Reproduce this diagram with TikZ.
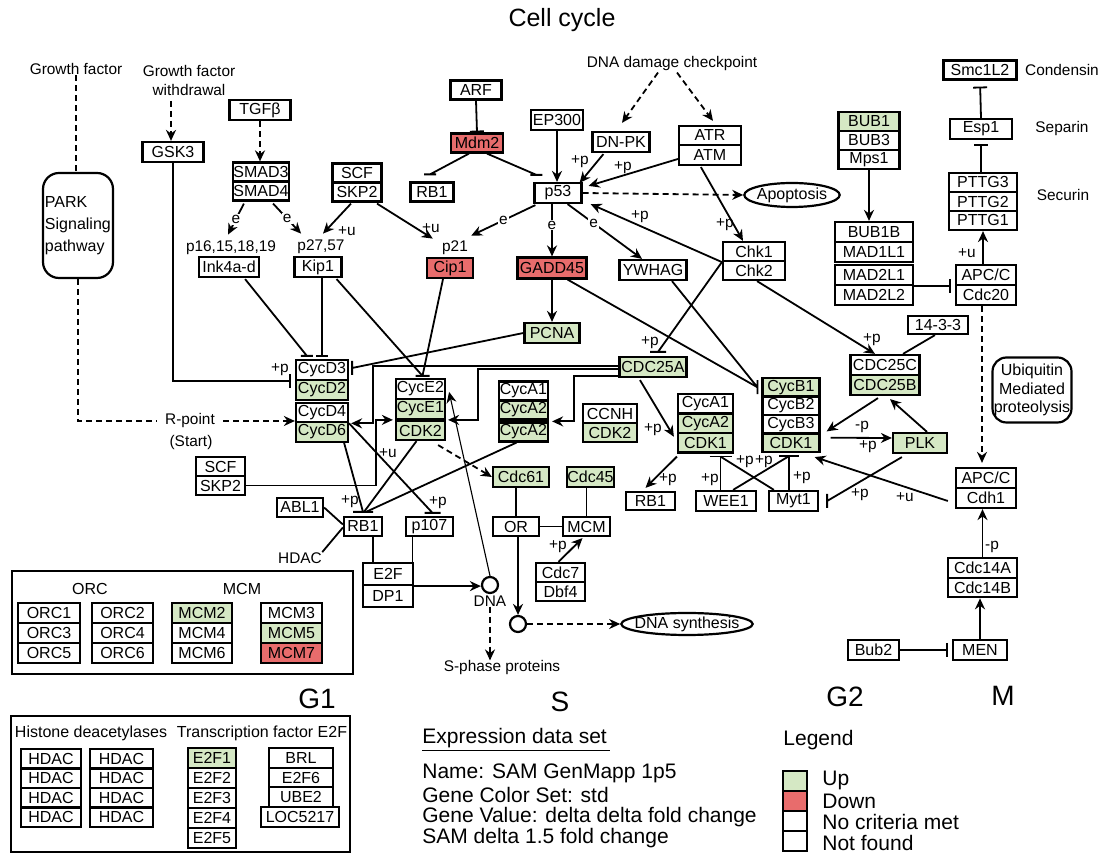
\documentclass[tikz,border=0pt]{standalone}
\usepackage{fontspec}
\setmainfont{Liberation Sans}
\usetikzlibrary{arrows.meta,calc,shapes.geometric}
\definecolor{upc}{RGB}{213,232,196}
\definecolor{dnc}{RGB}{232,108,108}
\begin{document}
\begin{tikzpicture}[x=0.5pt,y=-0.5pt,
  wd/.style={minimum width=#1*0.5pt},
  ht/.style={minimum height=#1*0.5pt},
  bx/.style={draw,line width=1.1pt,inner sep=0pt,fill=white,font=\fontsize{8}{9}\selectfont},
  up/.style={bx,fill=upc},
  dn/.style={bx,fill=dnc},
  txt/.style={inner sep=0pt,font=\fontsize{7.7}{9}\selectfont},
  lbl/.style={inner sep=0pt,font=\fontsize{7.7}{9}\selectfont},
  info/.style={anchor=west,inner sep=0pt,font=\fontsize{10.5}{12}\selectfont},
  phase/.style={inner sep=0pt,font=\fontsize{14}{16}\selectfont},
  grp/.style={draw,line width=1.1pt,inner sep=0pt},
  ln/.style={line width=0.9pt},
  ar/.style={ln,-{Stealth[length=5.5pt,width=5pt]}},
  dsh/.style={ln,dash pattern=on 3pt off 2pt},
  dar/.style={ar,dash pattern=on 3pt off 2pt},
  inh/.style={ln,-{Bar[width=7pt]}},
  elab/.style={fill=white,inner sep=0.6pt,font=\fontsize{7.7}{9}\selectfont}]
\useasboundingbox (0,0) rectangle (1104,854);

% ---------- title and free texts
\node[font=\fontsize{12.5}{14}\selectfont] (title) at (562,20) {Cell cycle};
\node[txt] (gf) at (76,69) {Growth factor};
\node[txt,align=center,font=\fontsize{7.7}{9.5}\selectfont] (gfw) at (189,81) {Growth factor\\withdrawal};
\node[txt] (dnadc) at (672,64) {DNA damage checkpoint};
\node[txt] (condensin) at (1062,70) {Condensin};
\node[txt] (separin) at (1062,129) {Separin};
\node[txt] (securin) at (1063,195) {Securin};
\node[txt] (p16) at (231,248) {p16,15,18,19};
\node[txt] (p2757) at (321,247) {p27,57};
\node[txt] (p21) at (455,248) {p21};
\node[txt,inner xsep=4pt] (rpoint) at (190,421) {R-point};
\node[txt] (rstart) at (191,443) {(Start)};
\node[txt] (hdacl) at (300,558) {HDAC};
\node[txt] (dnal) at (490,601) {DNA};
\node[txt] (sphase) at (502,668) {S-phase proteins};

% ---------- rounded boxes
\node[draw,rounded corners=8pt,line width=1.1pt,minimum width=35pt,minimum height=52.5pt,text width=33pt,align=left,inner sep=1pt,font=\fontsize{8}{11}\selectfont] (park) at (78,225.5) {PARK\\Signaling\\pathway};
\node[draw,rounded corners=7pt,line width=1.1pt,minimum width=39.5pt,minimum height=32.5pt,align=center,inner sep=0pt,font=\fontsize{8}{9.25}\selectfont] (ubq) at (1032,390) {Ubiquitin\\Mediated\\proteolysis};

% ---------- top left
\node[bx,wd=61,ht=20] (gsk3) at (173,152) {GSK3};
\node[bx,wd=61,ht=20] (tgfb) at (260,110) {TGFβ};
\node[bx,wd=56,ht=19] (smad3) at (261,172) {SMAD3};
\node[bx,wd=56,ht=19] (smad4) at (261,191) {SMAD4};
\node[bx,wd=60,ht=20] (ink) at (229,267) {Ink4a-d};
\node[bx,wd=47,ht=20] (kip1) at (318,267) {Kip1};
\node[bx,wd=49,ht=19] (scfa) at (357,173) {SCF};
\node[bx,wd=49,ht=19] (skp2a) at (357,192) {SKP2};

% ---------- top middle
\node[bx,wd=51,ht=19] (arf) at (476,90) {ARF};
\node[dn,wd=52,ht=19] (mdm2) at (477,143) {Mdm2};
\node[bx,wd=43,ht=19] (rb1a) at (432,192) {RB1};
\node[bx,wd=47,ht=20] (p53) at (558,193) {p53};
\node[bx,wd=52,ht=20] (ep300) at (557,120) {EP300};
\node[bx,wd=57,ht=20] (dnpk) at (621,142) {DN-PK};
\node[bx,wd=62,ht=19] (atr) at (710,135.5) {ATR};
\node[bx,wd=62,ht=20] (atm) at (710,155) {ATM};
\node[dn,wd=46,ht=20] (cip1) at (450,268) {Cip1};
\node[dn,wd=69,ht=21] (gadd) at (552,268) {GADD45};
\node[bx,wd=67,ht=20] (ywhag) at (653,270) {YWHAG};
\node[bx,wd=62,ht=19] (chk1) at (754,251.5) {Chk1};
\node[bx,wd=62,ht=19] (chk2) at (754,270.5) {Chk2};
\node[draw,ellipse,line width=1.1pt,minimum width=47.5pt,minimum height=12pt,inner xsep=-0.7pt,inner ysep=0pt,font=\fontsize{8}{9}\selectfont] (apop) at (792,195) {Apoptosis};

% ---------- top right
\node[bx,wd=73,ht=19] (smc) at (980,70) {Smc1L2};
\node[bx,wd=62,ht=20] (esp1) at (981,129) {Esp1};
\node[bx,wd=68,ht=19] (pttg3) at (983,182.5) {PTTG3};
\node[bx,wd=68,ht=19] (pttg2) at (983,201.5) {PTTG2};
\node[bx,wd=68,ht=19] (pttg1) at (983,220.5) {PTTG1};
\node[bx,wd=60,ht=20] (apca) at (986,275) {APC/C};
\node[bx,wd=60,ht=20] (cdc20) at (986,295) {Cdc20};
\node[up,wd=61,ht=19] (bub1) at (869,121.5) {BUB1};
\node[bx,wd=61,ht=19] (bub3) at (869,140.5) {BUB3};
\node[bx,wd=61,ht=19] (mps1) at (869,159.5) {Mps1};
\node[bx,wd=78,ht=20] (bub1b) at (874,232) {BUB1B};
\node[bx,wd=78,ht=20] (mad1l1) at (874,252) {MAD1L1};
\node[bx,wd=78,ht=20] (mad2l1) at (874,275) {MAD2L1};
\node[bx,wd=78,ht=20] (mad2l2) at (874,295) {MAD2L2};
\node[bx,wd=60,ht=20] (apcb) at (986,478) {APC/C};
\node[bx,wd=60,ht=20] (cdh1) at (986,498) {Cdh1};
\node[bx,wd=60,ht=18] (b1433) at (938,325) {14-3-3};
\node[bx,wd=69,ht=20] (cdc25c) at (885,365) {CDC25C};
\node[up,wd=69,ht=20] (cdc25b) at (885,385) {CDC25B};
\node[up,wd=54,ht=20] (plk) at (920,443) {PLK};

% ---------- centre
\node[bx,wd=52,ht=20] (cycd3) at (322,370) {CycD3};
\node[up,wd=52,ht=20] (cycd2) at (322,390) {CycD2};
\node[bx,wd=52,ht=19.5] (cycd4) at (322,412.5) {CycD4};
\node[up,wd=52,ht=19.5] (cycd6) at (322,432) {CycD6};
\node[up,wd=55,ht=20] (pcna) at (552,333) {PCNA};
\node[up,wd=67,ht=20] (cdc25a) at (653,367) {CDC25A};
\node[up,wd=57,ht=18.5] (cycb1) at (791,387.25) {CycB1};
\node[bx,wd=57,ht=18.5] (cycb2) at (791,405.75) {CycB2};
\node[bx,wd=57,ht=18.5] (cycb3) at (791,424.25) {CycB3};
\node[up,wd=57,ht=18.5] (cdk1b) at (791,442.75) {CDK1};
\node[bx,wd=60,ht=20] (wee1) at (726,501) {WEE1};
\node[bx,wd=49,ht=20] (myt1) at (793.5,501) {Myt1};
\node[bx,wd=55,ht=19.5] (cyca1r) at (705.5,403.75) {CycA1};
\node[up,wd=55,ht=19.5] (cyca2r) at (705.5,423.25) {CycA2};
\node[up,wd=55,ht=19.5] (cdk1a) at (705.5,442.75) {CDK1};
\node[bx,wd=49,ht=18] (rb1b) at (650.5,501) {RB1};
\node[bx,wd=54,ht=19] (ccnh) at (610,413.5) {CCNH};
\node[up,wd=54,ht=19] (cdk2b) at (610,432.5) {CDK2};
\node[up,wd=47,ht=20] (cdc45) at (590.5,477) {Cdc45};
\node[bx,wd=47,ht=19] (mcm) at (586.5,526.5) {MCM};
\node[bx,wd=46,ht=19] (or) at (516,526.5) {OR};
\node[up,wd=56,ht=20] (cdc61) at (521,477) {Cdc61};
\node[bx,wd=49,ht=19] (cyca1l) at (523.5,391) {CycA1};
\node[up,wd=49,ht=19] (cyca2l) at (523.5,410) {CycA2};
\node[up,wd=49,ht=19] (cyca2b) at (523.5,432) {CycA2};
\node[bx,wd=49,ht=20] (cyce2) at (420.5,389) {CycE2};
\node[up,wd=49,ht=20] (cyce1) at (420.5,409) {CycE1};
\node[up,wd=49,ht=19] (cdk2a) at (420.5,430.5) {CDK2};
\node[bx,wd=49,ht=19] (scfb) at (220.5,466.5) {SCF};
\node[bx,wd=49,ht=19] (skp2b) at (220.5,485.5) {SKP2};
\node[bx,wd=38,ht=19] (rb1c) at (363,526.5) {RB1};
\node[bx,wd=46,ht=19] (abl1) at (300,507.5) {ABL1};
\node[bx,wd=47,ht=19] (p107) at (429.5,526.5) {p107};
\node[bx,wd=50,ht=22] (e2f) at (388,574) {E2F};
\node[bx,wd=50,ht=22] (dp1) at (388,596) {DP1};
\node[bx,wd=49,ht=19] (cdc7) at (560.5,572.5) {Cdc7};
\node[bx,wd=49,ht=19] (dbf4) at (560.5,591.5) {Dbf4};
\node[circle,draw,line width=1.1pt,minimum size=8pt,inner sep=0pt] (dnac) at (490,585) {};
\node[circle,draw,line width=1.1pt,minimum size=8pt,inner sep=0pt] (synth) at (518,624) {};
\node[draw,ellipse,line width=1.1pt,minimum width=65pt,minimum height=11pt,inner xsep=-3pt,inner ysep=0pt,font=\fontsize{8}{9}\selectfont] (dnasyn) at (687,624) {DNA synthesis};

% ---------- bottom right
\node[bx,wd=51,ht=20] (bub2) at (873.5,650) {Bub2};
\node[bx,wd=54,ht=20] (men) at (980,650) {MEN};
\node[bx,wd=69,ht=20] (cdc14a) at (982.5,568) {Cdc14A};
\node[bx,wd=69,ht=19.5] (cdc14b) at (982.5,587.5) {Cdc14B};

% ---------- ORC / MCM group
\node[grp,wd=341,ht=103] (grp1) at (182.5,622.5) {};
\node[bx,draw=none,fill=none] (orcl) at (90,589) {ORC};
\node[bx,draw=none,fill=none] (mcml) at (242,589) {MCM};
\node[bx,wd=62,ht=20] (orc1) at (49,613) {ORC1};
\node[bx,wd=62,ht=20] (orc3) at (49,633) {ORC3};
\node[bx,wd=62,ht=20] (orc5) at (49,653) {ORC5};
\node[bx,wd=61,ht=20] (orc2) at (122.5,613) {ORC2};
\node[bx,wd=61,ht=20] (orc4) at (122.5,633) {ORC4};
\node[bx,wd=61,ht=20] (orc6) at (122.5,653) {ORC6};
\node[up,wd=60,ht=20] (mcm2) at (202,613) {MCM2};
\node[bx,wd=60,ht=20] (mcm4) at (202,633) {MCM4};
\node[bx,wd=60,ht=20] (mcm6) at (202,653) {MCM6};
\node[bx,wd=61,ht=20] (mcm3) at (291.5,613) {MCM3};
\node[up,wd=61,ht=20] (mcm5) at (291.5,633) {MCM5};
\node[dn,wd=61,ht=20] (mcm7) at (291.5,653) {MCM7};

% ---------- HDAC / E2F group
\node[grp,wd=339,ht=136] (grp2) at (180.5,784) {};
\node[bx,draw=none,fill=none] (hdl) at (91,733) {Histone deacetylases};
\node[bx,draw=none,fill=none] (tfl) at (262,733) {Transcription factor E2F};
\node[bx,wd=60,ht=19.5] (hd1) at (51,758.75) {HDAC};
\node[bx,wd=60,ht=19.5] (hd2) at (51,778.25) {HDAC};
\node[bx,wd=60,ht=19.5] (hd3) at (51,797.75) {HDAC};
\node[bx,wd=60,ht=19.5] (hd4) at (51,817.25) {HDAC};
\node[bx,wd=63,ht=19.5] (hd5) at (121.5,758.75) {HDAC};
\node[bx,wd=63,ht=19.5] (hd6) at (121.5,778.25) {HDAC};
\node[bx,wd=63,ht=19.5] (hd7) at (121.5,797.75) {HDAC};
\node[bx,wd=63,ht=19.5] (hd8) at (121.5,817.25) {HDAC};
\node[up,wd=48,ht=20] (e2f1) at (212,758) {E2F1};
\node[bx,wd=48,ht=20] (e2f2) at (212,778) {E2F2};
\node[bx,wd=48,ht=20] (e2f3) at (212,798) {E2F3};
\node[bx,wd=48,ht=20] (e2f4) at (212,818) {E2F4};
\node[bx,wd=48,ht=20] (e2f5) at (212,838) {E2F5};
\node[bx,wd=64,ht=19.7] (brl) at (301,757.8) {BRL};
\node[bx,wd=64,ht=19.7] (e2f6) at (301,777.5) {E2F6};
\node[bx,wd=64,ht=19.7] (ube2) at (301,797.2) {UBE2};
\node[bx,wd=78,ht=20] (loc) at (300,817) {LOC5217};

% ---------- phases, data set, legend
\node[phase] (g1) at (317,699) {G1};
\node[phase] (sph) at (560,702) {S};
\node[phase] (g2) at (845,697) {G2};
\node[phase] (mph) at (1003,696) {M};
\node[info] (eds) at (422,740) {\underline{Expression data set\,}};
\node[info] (eds1) at (422,773) {Name: SAM GenMapp 1p5};
\node[info] (eds2) at (422,795) {Gene Color Set: std};
\node[info] (eds3) at (422,817) {Gene Value: delta delta fold change};
\node[info] (eds4) at (422,838) {SAM delta 1.5 fold change};
\node[info] (legt) at (783,740) {Legend};
\node[up,wd=24,ht=20] (lg1) at (795,781) {};
\node[dn,wd=24,ht=20] (lg2) at (795,801) {};
\node[bx,wd=24,ht=20] (lg3) at (795,821) {};
\node[bx,wd=24,ht=20] (lg4) at (795,841) {};
\node[info] (lgt1) at (822,780) {Up};
\node[info] (lgt2) at (822,801) {Down};
\node[info] (lgt3) at (822,822) {No criteria met};
\node[info] (lgt4) at (822,843) {Not found};

% ---------- connector labels
\node[lbl] (l1) at (347,231) {+u};
\node[lbl] (l2) at (431,228) {+u};
\node[lbl] (l3) at (580,162) {+p};
\node[lbl] (l4) at (623,168) {+p};
\node[lbl] (l5) at (725,225) {+p};
\node[lbl] (l6) at (640,217) {+p};
\node[lbl] (l7) at (967,253) {+u};
\node[lbl] (l8) at (905,497) {+u};
\node[lbl] (l9) at (872,340) {+p};
\node[lbl] (l10) at (862,427) {-p};
\node[lbl] (l11) at (868,447) {+p};
\node[lbl] (l12) at (860,495) {+p};
\node[lbl] (l13) at (280,370) {+p};
\node[lbl] (l14) at (650,343) {+p};
\node[lbl] (l15) at (653,430) {+p};
\node[lbl] (l16) at (668,480) {+p};
\node[lbl] (l17) at (710,480) {+p};
\node[lbl] (l18) at (745,462) {+p};
\node[lbl] (l19) at (764,462) {+p};
\node[lbl] (l20) at (802,478) {+p};
\node[lbl] (l21) at (350,502) {+p};
\node[lbl] (l22) at (438,503) {+p};
\node[lbl] (l23) at (388,453) {+u};
\node[lbl] (l24) at (558,547) {+p};
\node[lbl] (l25) at (992,547) {-p};

% ---------- connectors: left
\draw[dsh] (gf.south) -- (gf.south |- park.north);
\draw[dsh] (park.south) |- (rpoint.west);
\draw[dar] (rpoint.east) -- (rpoint.east -| cycd4.west);
\coordinate (gfwe) at (171,101);
\draw[dar] (gfwe) -- (gfwe |- gsk3.north);
\draw[inh,shorten >=2pt] (gsk3.south) |- (cycd3.south west);
\draw[dar] (tgfb.south) -- (tgfb.south |- smad3.north);
\draw[ar] ($(smad4.south west)+(12,2)$) -- node[elab]{e} ($(p16.north)+(-3,-6)$);
\draw[ar] ($(smad4.south east)+(-17,2)$) -- node[elab]{e} ($(p2757.north west)+(4,-6)$);
\draw[ar] ($(skp2a.south)+(-6,1)$) -- ($(p2757.north)+(2,-6)$);
\draw[ar] ($(skp2a.south)+(20,1)$) -- ($(p21.north west)+(-9,-2)$);

% ---------- connectors: p53 area
\draw[inh] (arf.south) -- (mdm2.north);
\draw[ln] ($(mdm2.south)+(-8,0)$) -- ($(rb1a.north)+(-2,-7)$) ++(-6,0) -- ++(12,0);
\draw[ln] ($(mdm2.south)+(10,0)$) -- ($(p53.north west)+(3,-7)$) ++(-6,0) -- ++(12,0);
\draw[ar] (ep300.south) -- (ep300.south |- p53.north);
\draw[ar] ($(dnpk.south west)+(12,1)$) -- ($(p53.north east)+(-3,1)$);
\draw[ar] ($(atm.west)+(0,4)$) -- ($(p53.north east)+(6,4)$);
\draw[dar] ($(dnadc.south)+(-14,1)$) -- ($(dnpk.north)+(1,-8)$);
\draw[dar] ($(dnadc.south)+(5,1)$) -- ($(atr.north)+(3,-4)$);
\draw[dar] (p53.east) -- (apop.west);
\draw[ar] ($(atm.south west)+(23,1)$) -- ($(chk1.north)+(-11,0)$);
\draw[ar] (chk1.south west) -- ($(p53.south east)+(8,0)$);
\draw[ar] ($(p53.south west)+(2,1)$) -- node[elab]{e} ($(p21.north east)+(3,-5)$);
\draw[ar] ($(p53.south)+(-6,0)$) -- node[elab,pos=.4]{e} (gadd.north);
\draw[ar] ($(p53.south east)+(-15,0)$) -- node[elab,pos=.35]{e} ($(ywhag.north)+(-11,0)$);

% ---------- connectors: right top
\draw[inh,shorten >=3pt] (esp1.north) -- (smc.south);
\draw[inh,shorten >=2pt] (esp1.south |- pttg3.north) -- (esp1.south);
\draw[ar] ($(apca.north)+(-3,0)$) -- (pttg1.south);
\draw[ar] (mps1.south) -- (mps1.south |- bub1b.north);
\draw[inh,shorten >=2pt] (mad2l1.south east) -- (mad2l1.south east -| apca.west);
\draw[dar] ($(cdc20.south)+(-4,0)$) -- ($(apcb.north)+(-4,-4)$);
\draw[ar] ($(cdh1.west)+(-7,3)$) -- ($(cdk1b.south east)+(-6,4)$);
\draw[ln] ($(b1433.south)+(-3,0)$) -- ($(cdc25c.north)+(18,0)$);
\draw[ar] ($(chk2.south)+(3,0)$) -- ($(cdc25c.north)+(-10,0)$);
\draw[ar] ($(cdc25b.south)+(-7,2)$) -- ($(cdk1b.north east)+(6,-1)$);
\draw[ar] ($(plk.north)+(7,0)$) -- ($(cdc25b.south)+(5,3)$);
\draw[ar] ($(cdk1b.east)+(10,-5)$) -- ($(plk.west)+(0,-5)$);
\draw[ln] ($(plk.south west)+(10,3)$) -- ($(myt1.east)+(8,0)$) ++(0,-7) -- ++(0,14);

% ---------- connectors: centre
\draw[ln] ($(ink.south east)+(-15,1)$) -- ($(cycd3.north west)+(12,-3)$) ++(-6,0) -- ++(12,0);
\coordinate (k1) at ($(kip1.south)+(4,0)$);
\draw[ln] (k1) -- ($(k1 |- cycd3.north)+(0,-3)$) ++(-6,0) -- ++(12,0);
\coordinate (ce2t) at ($(cyce2.north)+(2,-2)$);
\draw[ln] ($(kip1.south east)+(-6,1)$) -- (ce2t);
\draw[ln] ($(cip1.south)+(-7,0)$) -- (ce2t) ++(-7,0) -- ++(14,0);
\draw[ln] (pcna.west) -- ($(cycd3.east)+(3,-2)$) ++(0,-7) -- ++(0,14);
\draw[ar] (gadd.south) -- (pcna.north);
\coordinate (cb1t) at ($(cycb1.west)+(-4,0)$);
\draw[ln] ($(gadd.south east)+(-20,0)$) -- (cb1t);
\draw[ln] ($(ywhag.south)+(19,0)$) -- (cb1t) ++(0,-7) -- ++(0,14);
\draw[ar] ($(cdc25a.west)+(0,-1)$) -| ($(cycd4.south east)+(24,0)$) -- ($(cycd4.south east)+(2,0)$);
\draw[ar] ($(cdc25a.west)+(0,2)$) -| ($(cdk2a.north east)+(32,0)$) -- ($(cdk2a.north east)+(2,0)$);
\draw[ar] ($(cdc25a.south west)+(0,-2)$) -| ($(cyca2b.north east)+(25,0)$) -- ($(cyca2b.north east)+(3,0)$);
\draw[ln] (chk1.south west) -- ($(cdc25a.north)+(5,-4)$) ++(-8,0) -- ++(16,0);
\draw[ar] ($(cdc25a.south)+(-13,2)$) -- ($(cdk1a.west)+(-3,-6)$);
\draw[ar] ($(cdk1a.south west)+(0,3)$) -- ($(rb1b.north)+(-5,-3)$);
\coordinate (cdk1at) at ($(cdk1a.south)+(15,3)$);
\coordinate (cdk1bt) at ($(cdk1b.south)+(-2,3)$);
\draw[ln] (cdk1at |- wee1.north) -- (cdk1at) ++(-11,0) -- ++(22,0);
\draw[ln] ($(myt1.north west)+(6,0)$) -- (cdk1at);
\draw[ln] ($(wee1.north east)+(-24,0)$) -- (cdk1bt);
\draw[ln] (cdk1bt |- myt1.north) -- (cdk1bt) ++(-10,0) -- ++(20,0);
\coordinate (rbt) at ($(rb1c.north)+(0,-4)$);
\draw[ln] ($(cycd6.south east)+(-5,0)$) -- (rbt) ++(-10,0) -- ++(20,0);
\draw[ln] ($(cdk2a.south)+(-4,0)$) -- ($(rbt)+(1,0)$);
\draw[ln] ($(cyca2b.south)+(-7,0)$) -- ($(rbt)+(3,0)$);
\coordinate (p107t) at ($(p107.north)+(3,-3)$);
\draw[ln] (cycd4.south east) -- (p107t) ++(-8,0) -- ++(16,0);
\draw[ar] (skp2b.east) -| ($(cdk2a.north west)+(-19,0)$) -- ($(cdk2a.north west)+(-2,0)$);
\draw[dar] ($(cdk2a.south east)+(-8,4)$) -- (cdc61.west);
\draw[ln] (cdc61.south -| or.north) -- (or.north);
\draw[ln] (or.east) -- (mcm.west);
\draw[ln] (cdc45.south -| mcm.north) -- (mcm.north);
\draw[ar] ($(cdc7.north)+(-2,0)$) -- ($(mcm.south)+(-4,1)$);
\draw[ar] ($(or.south)+(2,0)$) -- (synth.north);
\draw[dar] (synth.east) -- (dnasyn.west);
\draw[ar] (e2f.south east) -- (e2f.south east -| dnac.west);
\draw[ar,line width=0.55pt] (dnac.north) -- ($(cyce1.north east)+(3,-6)$);
\draw[dar] (dnal.south) -- (dnal.south |- sphase.north);
\coordinate (r1) at ($(rb1c.south)+(10,0)$);
\draw[ln] (r1) -- (r1 |- e2f.north);
\coordinate (r2) at ($(p107.south)+(-17,0)$);
\draw[ln] (r2) -- (r2 |- e2f.north);
\draw[ln] (abl1.east) -- ($(rb1c.west)+(0,-2)$);
\draw[ln] (hdacl.north east) -- ($(rb1c.west)+(0,1)$);

% ---------- connectors: bottom right
\draw[inh,shorten >=2pt] (bub2.east) -- (men.west);
\draw[ar] (men.north) -- (men.north |- cdc14b.south);
\draw[ar] (cdc14a.north) -- (cdc14a.north |- cdh1.south);
\end{tikzpicture}
\end{document}
